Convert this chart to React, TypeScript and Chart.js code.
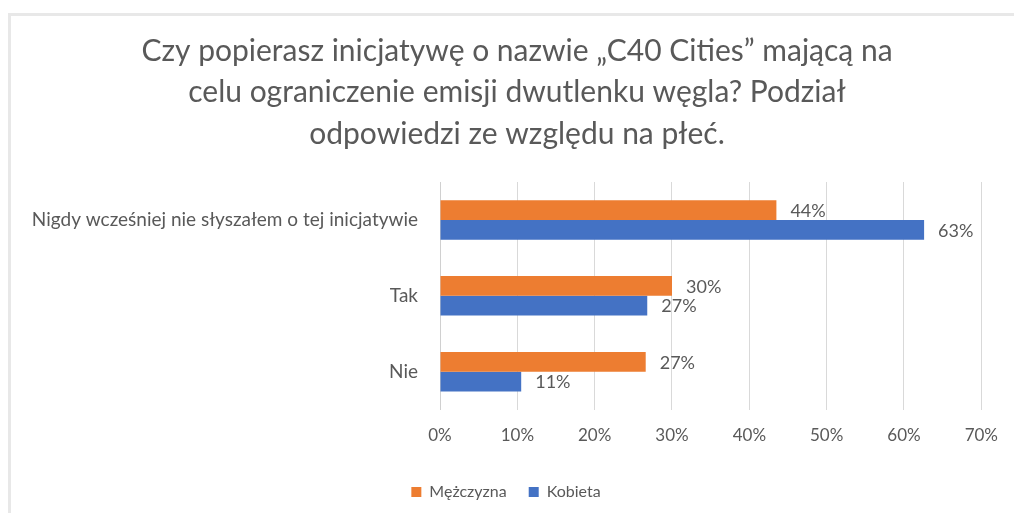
import React, { useEffect, useRef } from "react";
import { Chart, registerables } from "chart.js";

Chart.register(...registerables);

const categories = [
  "Nigdy wcześniej nie słyszałem o tej inicjatywie",
  "Tak",
  "Nie",
];
const menValues = [43.5, 30.0, 26.6];
const womenValues = [62.6, 26.8, 10.5];
const seriesNames = ["Mężczyzna", "Kobieta"];
const xTicks = [0, 10, 20, 30, 40, 50, 60, 70];
const titleLines = [
  "Czy popierasz inicjatywę o nazwie „C40 Cities” mającą na",
  "celu ograniczenie emisji dwutlenku węgla? Podział",
  "odpowiedzi ze względu na płeć.",
];

const FONT = "Lato, 'Open Sans', sans-serif";
const TEXT = "#595959";

const valueLabels = {
  id: "valueLabels",
  afterDatasetsDraw(chart: any) {
    const ctx = chart.ctx;
    ctx.save();
    ctx.font = `18px ${FONT}`;
    ctx.fillStyle = TEXT;
    ctx.textAlign = "left";
    ctx.textBaseline = "middle";
    chart.data.datasets.forEach((ds: any, di: number) => {
      const meta = chart.getDatasetMeta(di);
      meta.data.forEach((bar: any, i: number) => {
        const v = ds.data[i];
        ctx.fillText(`${Math.round(v)}%`, bar.x + 14, bar.y + 1);
      });
    });
    ctx.restore();
  },
};

const titleDraw = {
  id: "titleDraw",
  afterDraw(chart: any) {
    const ctx = chart.ctx;
    ctx.save();
    ctx.font = `30px ${FONT}`;
    ctx.fillStyle = TEXT;
    ctx.textAlign = "center";
    ctx.textBaseline = "middle";
    titleLines.forEach((line, i) => {
      ctx.fillText(line, 517, 51 + i * 41.5);
    });
    ctx.restore();
  },
};

export default function App() {
  const ref = useRef<HTMLCanvasElement>(null);
  useEffect(() => {
    if (!ref.current) return;
    const chart = new Chart(ref.current, {
      type: "bar",
      data: {
        labels: categories,
        datasets: [
          {
            label: seriesNames[0],
            data: menValues,
            backgroundColor: "#ED7D31",
            categoryPercentage: 0.52,
            barPercentage: 1.0,
          },
          {
            label: seriesNames[1],
            data: womenValues,
            backgroundColor: "#4472C4",
            categoryPercentage: 0.52,
            barPercentage: 1.0,
          },
        ],
      },
      options: {
        indexAxis: "y",
        responsive: false,
        animation: false,
        layout: { padding: { left: 25, right: 27, top: 182, bottom: 3 } },
        scales: {
          x: {
            min: 0,
            max: 70,
            afterBuildTicks: (scale: any) => {
              scale.ticks = xTicks.map((v) => ({ value: v }));
            },
            ticks: {
              callback: (v: any) => `${v}%`,
              color: TEXT,
              font: { family: FONT, size: 17 },
              padding: 16,
            },
            grid: { color: "#d9d9d9", drawTicks: false, lineWidth: 1 },
            border: { display: false },
          },
          y: {
            afterFit: (scale: any) => {
              scale.width = 415;
            },
            ticks: {
              color: TEXT,
              font: { family: FONT, size: 19 },
              padding: 22,
            },
            grid: { display: false, drawTicks: false },
            border: { display: true, color: "#d0d0d0" },
          },
        },
        plugins: {
          title: { display: false },
          legend: {
            position: "bottom",
            labels: {
              boxWidth: 10,
              boxHeight: 10,
              color: TEXT,
              font: { family: FONT, size: 16 },
              padding: 22,
            },
          },
          tooltip: { enabled: false },
        },
      },
      plugins: [valueLabels, titleDraw],
    } as any);
    return () => chart.destroy();
  }, []);

  return (
    <div
      style={{
        position: "fixed",
        left: 0,
        top: 0,
        width: 1014,
        height: 513,
        background: "#fff",
        overflow: "hidden",
      }}
    >
      <div
        style={{
          position: "absolute",
          left: 8,
          top: 13,
          right: -10,
          bottom: -10,
          borderLeft: "3px solid #e8e8e8",
          borderTop: "3px solid #e8e8e8",
        }}
      />
      <canvas
        ref={ref}
        width={1014}
        height={513}
        style={{ position: "absolute", left: 0, top: 0, width: 1014, height: 513 }}
      />
    </div>
  );
}
